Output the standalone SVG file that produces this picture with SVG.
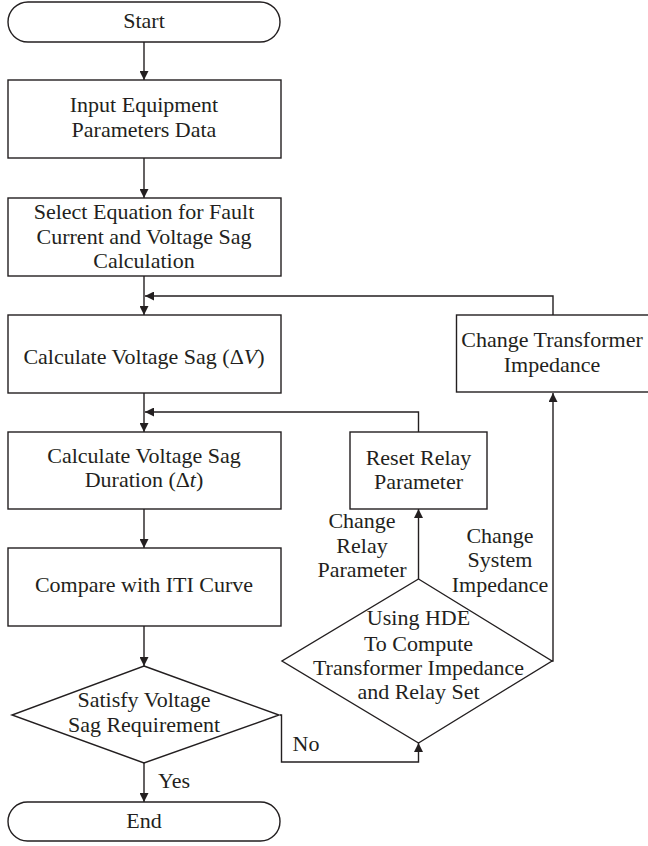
<svg xmlns="http://www.w3.org/2000/svg" width="648" height="846" viewBox="0 0 648 846">
<style>
.s{fill:#fff;stroke:#231f20;stroke-width:1.4}
.c{fill:none;stroke:#231f20;stroke-width:1.4}
text{font-size:22px;fill:#231f20;text-anchor:middle}
</style>
<defs>
<marker id="ah" viewBox="0 0 10 10" refX="10" refY="5" markerWidth="10" markerHeight="9" markerUnits="userSpaceOnUse" orient="auto">
<path d="M0,0 L10,5 L0,10 z" fill="#231f20"/>
</marker>
</defs>
<rect width="648" height="846" fill="#fff"/>
<g font-family="'Liberation Serif', 'Times New Roman', Tinos, 'DejaVu Serif', serif">
<g id="connectors">
<line class="c" x1="144" y1="42" x2="144" y2="80" marker-end="url(#ah)"/>
<line class="c" x1="144" y1="158" x2="144" y2="198" marker-end="url(#ah)"/>
<line class="c" x1="144" y1="276" x2="144" y2="315" marker-end="url(#ah)"/>
<polyline class="c" points="553,315 553,296 145,296" marker-end="url(#ah)"/>
<line class="c" x1="144" y1="393" x2="144" y2="432" marker-end="url(#ah)"/>
<polyline class="c" points="418.5,432 418.5,412 145,412" marker-end="url(#ah)"/>
<line class="c" x1="144" y1="509" x2="144" y2="548" marker-end="url(#ah)"/>
<line class="c" x1="144" y1="626" x2="144" y2="666" marker-end="url(#ah)"/>
<line class="c" x1="144" y1="763" x2="144" y2="802" marker-end="url(#ah)"/>
<polyline class="c" points="280,715 281.5,715 281.5,762 418.5,762 418.5,743" marker-end="url(#ah)"/>
<line class="c" x1="418.5" y1="579" x2="418.5" y2="509" marker-end="url(#ah)"/>
<polyline class="c" points="552,661 553,661 553,393" marker-end="url(#ah)"/>
<text x="174" y="788">Yes</text>
<text x="306" y="751">No</text>
<text x="362" y="528">Change</text>
<text x="362" y="553">Relay</text>
<text x="362" y="577">Parameter</text>
<text x="500" y="543">Change</text>
<text x="500" y="567">System</text>
<text x="500" y="592">Impedance</text>
</g>
<g id="start">
<rect class="s" x="8" y="2" width="272" height="40" rx="20" ry="20"/>
<text x="144" y="28">Start</text>
</g>
<g id="input">
<rect class="s" x="8" y="80" width="273" height="78"/>
<text x="144" y="112">Input Equipment</text>
<text x="144" y="137">Parameters Data</text>
</g>
<g id="select">
<rect class="s" x="8" y="198" width="273" height="78"/>
<text x="144" y="219">Select Equation for Fault</text>
<text x="144" y="244">Current and Voltage Sag</text>
<text x="144" y="268">Calculation</text>
</g>
<g id="calcV">
<rect class="s" x="8" y="315" width="273" height="78"/>
<text x="144" y="364">Calculate Voltage Sag (Δ<tspan font-style="italic">V</tspan>)</text>
</g>
<g id="calcT">
<rect class="s" x="8" y="432" width="273" height="77"/>
<text x="144" y="463">Calculate Voltage Sag</text>
<text x="144" y="487">Duration (Δ<tspan font-style="italic">t</tspan>)</text>
</g>
<g id="compare">
<rect class="s" x="8" y="548" width="273" height="78"/>
<text x="144" y="592">Compare with ITI Curve</text>
</g>
<g id="satisfy">
<polygon class="s" points="144,666 279,715 144,763 12,715"/>
<text x="144" y="707">Satisfy Voltage</text>
<text x="144" y="732">Sag Requirement</text>
</g>
<g id="end">
<rect class="s" x="8" y="802" width="272" height="39" rx="19.5" ry="19.5"/>
<text x="144" y="828">End</text>
</g>
<g id="changeTransformer">
<rect class="s" x="456.5" y="315" width="194" height="77"/>
<text x="552" y="347">Change Transformer</text>
<text x="552" y="372">Impedance</text>
</g>
<g id="resetRelay">
<rect class="s" x="350" y="432" width="137" height="77"/>
<text x="418.5" y="465">Reset Relay</text>
<text x="418.5" y="489">Parameter</text>
</g>
<g id="hde">
<polygon class="s" points="418.5,579 552,661 418.5,743 282,661"/>
<text x="418.5" y="625">Using HDE</text>
<text x="418.5" y="651">To Compute</text>
<text x="418.5" y="675">Transformer Impedance</text>
<text x="418.5" y="699">and Relay Set</text>
</g>
</g>
</svg>
